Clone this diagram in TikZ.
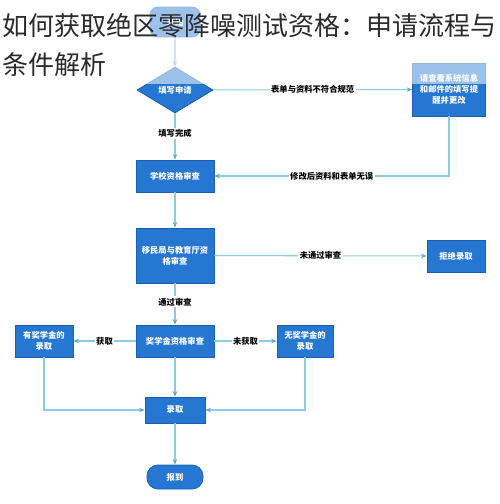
\documentclass[tikz,border=0pt]{standalone}
\usepackage{fontspec}
\usetikzlibrary{shapes.geometric,arrows.meta}
\newfontfamily\cjk{Noto Sans CJK SC}
\definecolor{boxfill}{HTML}{2577D2}
\definecolor{boxline}{HTML}{1C5FAE}
\definecolor{linec}{HTML}{8CCBE6}
\definecolor{tipc}{HTML}{5AAAD4}
\definecolor{titlec}{HTML}{2B2B2B}
\tikzset{
  box/.style={draw=boxline, line width=0.8pt, fill=boxfill, text=white, font=\cjk\bfseries\fontsize{8.3}{11}\selectfont, align=center, inner sep=1pt},
  conn/.style={draw=linec, line width=1.1pt, -{Stealth[length=5.5pt,width=4.5pt,color=tipc]}},
  lab/.style={fill=white, text=black, font=\cjk\bfseries\fontsize{8.3}{10}\selectfont, inner sep=1.5pt},
  ttl/.style={text=titlec, font=\cjk\fontsize{26}{30}\selectfont, inner sep=0pt, anchor=base west}
}
\begin{document}
\begin{tikzpicture}[x=1pt,y=-1pt]
\useasboundingbox (0,0) rectangle (500,504);
% nodes
\node[box, rounded corners=8pt, minimum width=50pt, minimum height=30pt] (start) at (175,22) {开始};
\node[box, diamond, minimum width=76pt, minimum height=46pt, inner sep=0pt] (fill) at (175,90) {填写申请};
\node[box, minimum width=73pt, minimum height=53pt] (fix) at (449,89.5) {请查看系统信息\\和邮件的填写提\\醒并更改};
\node[box, minimum width=78pt, minimum height=32pt] (school) at (175,176) {学校资格审查};
\node[box, minimum width=78pt, minimum height=55pt] (imm) at (175,255.5) {移民局与教育厅资\\格审查};
\node[box, minimum width=58pt, minimum height=32pt] (reject) at (456,256) {拒绝录取};
\node[box, minimum width=78pt, minimum height=32pt] (sch) at (175,341) {奖学金资格审查};
\node[box, minimum width=58pt, minimum height=32pt] (yes) at (44,341) {有奖学金的\\录取};
\node[box, minimum width=56pt, minimum height=32pt] (no) at (305,341) {无奖学金的\\录取};
\node[box, minimum width=60pt, minimum height=26pt] (admit) at (175,410) {录取};
\node[box, rounded corners=11pt, minimum width=56pt, minimum height=24pt] (report) at (175,477) {报到};
% connectors
\draw[conn] (start) -- (fill);
\draw[conn] (fill) -- node[lab]{表单与资料不符合规范} (fix);
\draw[conn] (fill) -- node[lab, pos=0.43]{填写完成} (school);
\coordinate (fixturn) at (fix.south |- school.east);
\draw[conn] (fix.south) -- (fixturn) -- node[lab]{修改后资料和表单无误} (school.east);
\draw[conn] (school) -- (imm);
\draw[conn] (imm) -- node[lab]{未通过审查} (reject);
\draw[conn] (imm) -- node[lab, pos=0.45]{通过审查} (sch);
\draw[conn] (sch) -- node[lab]{获取} (yes);
\draw[conn] (sch) -- node[lab]{未获取} (no);
\draw[conn] (sch) -- (admit);
\coordinate (yturn) at (yes.south |- admit.west);
\coordinate (nturn) at (no.south |- admit.east);
\draw[conn] (yes.south) -- (yturn) -- (admit.west);
\draw[conn] (no.south) -- (nturn) -- (admit.east);
\draw[conn] (admit) -- (report);
% faded top band
\fill[white, opacity=0.55] (0,0) rectangle (500,84);
% title
\node[ttl] (t1) at (2,35) {如何获取绝区零降噪测试资格：申请流程与};
\node[ttl] (t2) at (2,74) {条件解析};
\end{tikzpicture}
\end{document}
